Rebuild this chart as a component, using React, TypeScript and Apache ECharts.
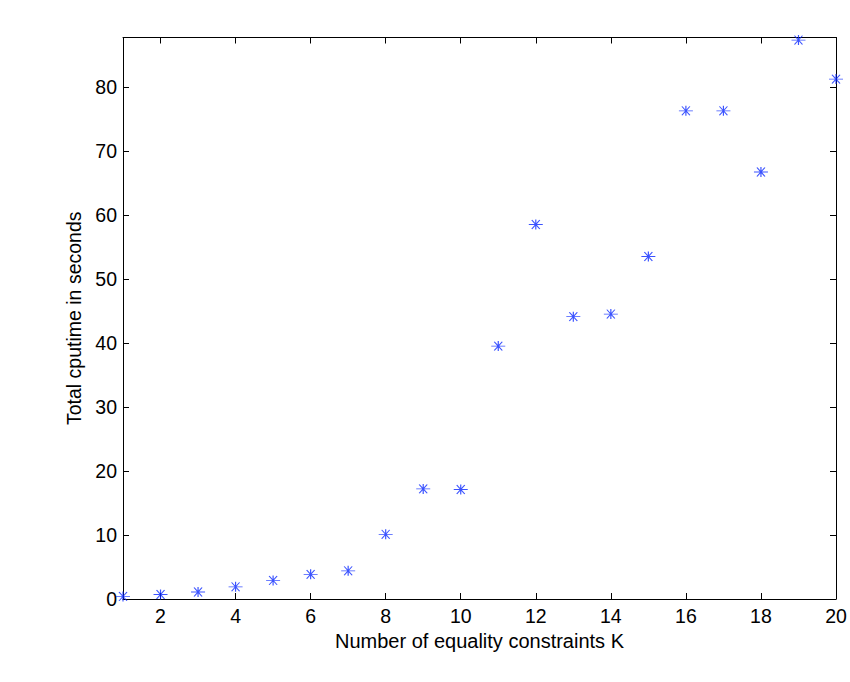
import React, { useEffect, useRef } from "react";
import * as echarts from "echarts";

const kValues = [1, 2, 3, 4, 5, 6, 7, 8, 9, 10, 11, 12, 13, 14, 15, 16, 17, 18, 19, 20];
const cpuTimes = [0.4, 0.7, 1.1, 1.9, 2.9, 3.85, 4.4, 10.1, 17.2, 17.1, 39.5, 58.5, 44.1, 44.5, 53.5, 76.25, 76.25, 66.7, 87.3, 81.2];
const xTicks = [2, 4, 6, 8, 10, 12, 14, 16, 18, 20];
const yTicks = [0, 10, 20, 30, 40, 50, 60, 70, 80];

const FONT = "'Liberation Sans', Arial, Helvetica, sans-serif";
const STAR = "path://M0,5L14,5M3,1L11,9M11,1L3,9M7,0.5L7,9.5";

export default function App() {
  const ref = useRef<HTMLDivElement>(null);
  useEffect(() => {
    if (!ref.current) return;
    const chart = echarts.init(ref.current, null, { renderer: "svg" });
    const axisCommon = {
      type: "value" as const,
      axisLine: { show: true, onZero: false, lineStyle: { color: "#000", width: 1 } },
      splitLine: { show: false },
    };
    chart.setOption({
      animation: false,
      backgroundColor: "#fff",
      grid: { left: 123, right: 14, top: 37.5, bottom: 83 },
      xAxis: [
        {
          ...axisCommon,
          min: 1,
          max: 20,
          position: "bottom",
          name: "Number of equality constraints K",
          nameLocation: "middle",
          nameGap: 24,
          nameTextStyle: { color: "#000", fontSize: 20, fontFamily: FONT },
          axisTick: { show: true, inside: true, length: 6, customValues: xTicks, lineStyle: { color: "#000" } },
          axisLabel: { show: true, customValues: xTicks, color: "#000", fontSize: 19.5, fontFamily: FONT, margin: 7 },
        },
        {
          ...axisCommon,
          min: 1,
          max: 20,
          position: "top",
          axisTick: { show: true, inside: true, length: 6, customValues: xTicks, lineStyle: { color: "#000" } },
          axisLabel: { show: false, customValues: xTicks },
        },
      ],
      yAxis: [
        {
          ...axisCommon,
          min: 0,
          max: 87.7,
          position: "left",
          name: "Total cputime in seconds",
          nameLocation: "middle",
          nameGap: 39,
          nameTextStyle: { color: "#000", fontSize: 19.5, fontFamily: FONT },
          axisTick: { show: true, inside: true, length: 6, customValues: yTicks, lineStyle: { color: "#000" } },
          axisLabel: { show: true, customValues: yTicks, color: "#000", fontSize: 19.5, fontFamily: FONT, margin: 6 },
        },
        {
          ...axisCommon,
          min: 0,
          max: 87.7,
          position: "right",
          axisTick: { show: true, inside: true, length: 6, customValues: yTicks, lineStyle: { color: "#000" } },
          axisLabel: { show: false, customValues: yTicks },
        },
      ],
      series: [
        {
          type: "scatter",
          xAxisIndex: 0,
          yAxisIndex: 0,
          data: kValues.map((k, i) => [k, cpuTimes[i]]),
          symbol: STAR,
          symbolSize: [14, 10],
          itemStyle: { color: "transparent", borderColor: "#0a28ff", borderWidth: 1 },
          clip: false,
        },
      ],
    });
    return () => chart.dispose();
  }, []);
  return <div ref={ref} style={{ position: "absolute", left: 0, top: 0, width: 850, height: 682 }} />;
}
